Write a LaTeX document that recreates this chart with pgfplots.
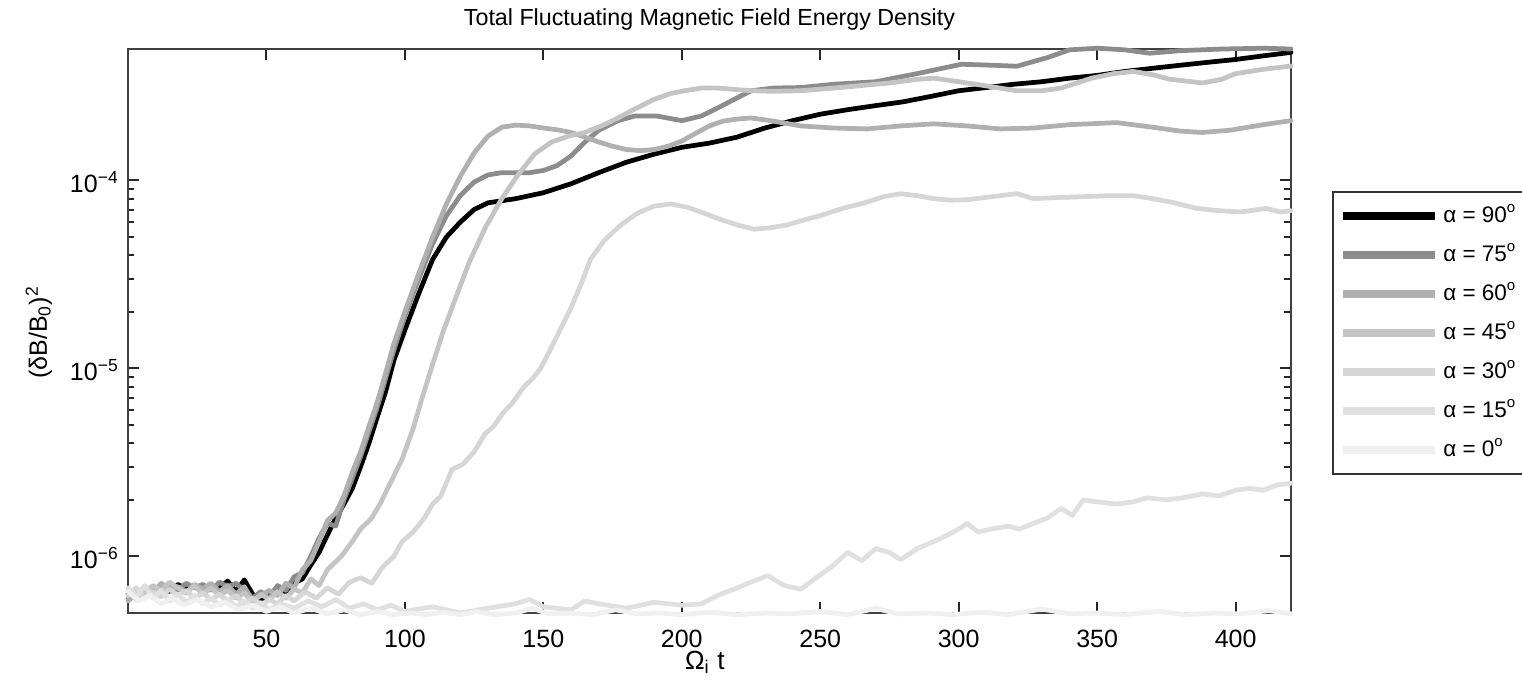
\documentclass[border=0pt]{standalone}
\usepackage{fontspec}
\setmainfont{Liberation Sans}
\usepackage{pgfplots}
\pgfplotsset{compat=1.18}
\definecolor{c90}{RGB}{0,0,0}
\definecolor{c75}{RGB}{140,140,140}
\definecolor{c60}{RGB}{176,176,176}
\definecolor{c45}{RGB}{196,196,196}
\definecolor{c30}{RGB}{214,214,214}
\definecolor{c15}{RGB}{224,224,224}
\definecolor{c0}{RGB}{240,240,240}
\begin{document}
\begin{tikzpicture}
\useasboundingbox (-51.2pt,-31.2pt) rectangle (557.6pt,245.2pt);
\begin{axis}[
  at={(0pt,0pt)}, anchor=south west,
  scale only axis, width=465.2pt, height=225.6pt,
  ymode=log, xmin=0, xmax=420, ymin=5e-7, ymax=5e-4,
  clip=false,
  xtick={50,100,...,400},
  ytick={1e-6,1e-5,1e-4},
  yticklabels={10\textsuperscript{−6},10\textsuperscript{−5},10\textsuperscript{−4}},
  tick label style={font=\fontsize{10}{12}\selectfont},
  xticklabel style={/pgf/number format/assume math mode=true, anchor=base, inner sep=0pt, yshift=-13.6pt},
  yticklabel style={anchor=base east, inner sep=0pt, xshift=-3.4pt, yshift=-4.8pt},
  tick align=inside, major tick length=4.5pt, minor tick length=2.6pt,
  axis line style={draw=black!75, line width=1pt},
  every tick/.style={black!85, line width=0.8pt},
  title={Total Fluctuating Magnetic Field Energy Density},
  title style={font=\fontsize{9.3}{11}\selectfont, at={(axis description cs:0.5,1)}, anchor=base, yshift=3.6pt},
  xlabel={Ω\textsubscript{i} t},
  xlabel style={font=\fontsize{10.5}{12}\selectfont, inner sep=0pt, at={(axis description cs:0.496,0)}, anchor=base, yshift=-22.5pt},
  ylabel={(δB/B\textsubscript{0})\textsuperscript{2}},
  ylabel style={font=\fontsize{10}{12}\selectfont, at={(axis description cs:-0.0697,0.498)}, anchor=base},
  legend style={at={(axis description cs:1.0353,0.748)}, anchor=north west,
    draw=black!80, line width=0.8pt, font=\fontsize{9}{10}\selectfont,
    inner xsep=2.4pt, inner ysep=5pt, row sep=6.6pt, column sep=1.2pt,
    nodes={inner sep=0.5pt, text height=6.5pt, text depth=1.5pt},
    cells={anchor=west}},
  legend image code/.code={\draw[#1, line width=3pt, line cap=butt] (0pt,0pt) -- (37pt,0pt);},
  every axis plot/.append style={line width=1.9pt, line join=round, line cap=round},
]
% alpha = 90
\addplot[c90] coordinates {(0,6.3e-7)(3,6.0e-7)(6,6.6e-7)(9,6.2e-7)(12,6.9e-7)(15,6.5e-7)(18,7.1e-7)(21,6.7e-7)(24,6.9e-7)(27,6.5e-7)(30,7.0e-7)(33,6.8e-7)(36,7.4e-7)(39,6.5e-7)(42,7.5e-7)(45,6.3e-7)(48,5.8e-7)(51,6.3e-7)(54,6.8e-7)(57,6.4e-7)(60,7.2e-7)(63,7.6e-7)(66,9.0e-7)(69,1.05e-6)(72,1.3e-6)(75,1.6e-6)(78,1.9e-6)(81,2.3e-6)(84,3.0e-6)(87,4.0e-6)(90,5.5e-6)(93,7.5e-6)(96,1.1e-5)(100,1.6e-5)(105,2.5e-5)(110,3.8e-5)(115,5.0e-5)(120,6.0e-5)(125,7.0e-5)(130,7.6e-5)(135,7.8e-5)(140,8.0e-5)(150,8.6e-5)(160,9.6e-5)(170,1.1e-4)(180,1.25e-4)(190,1.38e-4)(200,1.5e-4)(210,1.58e-4)(220,1.7e-4)(230,1.9e-4)(240,2.08e-4)(250,2.25e-4)(260,2.38e-4)(270,2.5e-4)(280,2.62e-4)(290,2.8e-4)(300,3.0e-4)(310,3.12e-4)(320,3.25e-4)(330,3.35e-4)(340,3.5e-4)(350,3.62e-4)(360,3.8e-4)(370,3.95e-4)(380,4.1e-4)(390,4.25e-4)(400,4.4e-4)(410,4.6e-4)(420,4.8e-4)};
\addlegendentry{α = 90\textsuperscript{o}}
% alpha = 75
\addplot[c75] coordinates {(0,6.0e-7)(3,6.5e-7)(6,6.2e-7)(9,6.8e-7)(12,6.4e-7)(15,7.0e-7)(18,6.6e-7)(21,7.2e-7)(24,6.8e-7)(27,7.1e-7)(30,6.6e-7)(33,7.3e-7)(36,6.9e-7)(39,7.2e-7)(42,6.6e-7)(45,6.0e-7)(48,6.5e-7)(51,6.0e-7)(54,7.0e-7)(57,6.6e-7)(60,7.8e-7)(63,8.2e-7)(66,1.0e-6)(69,1.25e-6)(72,1.5e-6)(75,1.45e-6)(78,2.0e-6)(81,2.6e-6)(84,3.4e-6)(87,4.6e-6)(90,6.2e-6)(93,8.8e-6)(96,1.25e-5)(100,1.9e-5)(105,3.0e-5)(110,4.6e-5)(115,6.5e-5)(120,8.3e-5)(125,9.8e-5)(130,1.07e-4)(135,1.1e-4)(140,1.1e-4)(145,1.1e-4)(150,1.13e-4)(155,1.2e-4)(160,1.35e-4)(165,1.6e-4)(170,1.85e-4)(177,2.08e-4)(183,2.2e-4)(191,2.2e-4)(200,2.08e-4)(207,2.2e-4)(213,2.43e-4)(220,2.75e-4)(225,3.0e-4)(233,3.1e-4)(243,3.12e-4)(255,3.25e-4)(270,3.35e-4)(285,3.7e-4)(301,4.15e-4)(312,4.1e-4)(321,4.05e-4)(332,4.5e-4)(340,4.95e-4)(350,5.05e-4)(360,4.95e-4)(369,4.75e-4)(380,4.9e-4)(395,5.0e-4)(410,5.05e-4)(420,5.0e-4)};
\addlegendentry{α = 75\textsuperscript{o}}
% alpha = 60
\addplot[c60] coordinates {(0,5.8e-7)(3,6.3e-7)(6,6.9e-7)(9,6.4e-7)(12,7.2e-7)(15,6.7e-7)(18,6.9e-7)(21,6.4e-7)(24,7.1e-7)(27,6.7e-7)(30,7.2e-7)(33,6.5e-7)(36,7.0e-7)(39,6.3e-7)(42,6.9e-7)(45,5.8e-7)(48,6.2e-7)(51,6.6e-7)(54,6.2e-7)(57,7.2e-7)(60,6.8e-7)(63,8.5e-7)(66,9.5e-7)(69,1.2e-6)(72,1.55e-6)(75,1.7e-6)(78,2.1e-6)(81,2.8e-6)(84,3.6e-6)(87,4.9e-6)(90,6.6e-6)(93,9.4e-6)(96,1.35e-5)(100,2.0e-5)(105,3.2e-5)(110,5.0e-5)(115,7.5e-5)(120,1.05e-4)(125,1.4e-4)(130,1.72e-4)(135,1.92e-4)(140,1.97e-4)(145,1.95e-4)(150,1.9e-4)(155,1.86e-4)(160,1.8e-4)(165,1.7e-4)(170,1.6e-4)(175,1.52e-4)(180,1.46e-4)(185,1.44e-4)(190,1.46e-4)(195,1.52e-4)(200,1.62e-4)(205,1.78e-4)(210,1.95e-4)(215,2.07e-4)(220,2.12e-4)(225,2.15e-4)(232,2.08e-4)(243,1.95e-4)(255,1.9e-4)(267,1.88e-4)(279,1.95e-4)(291,2.0e-4)(303,1.95e-4)(315,1.88e-4)(327,1.9e-4)(340,1.98e-4)(357,2.03e-4)(370,1.92e-4)(380,1.83e-4)(388,1.8e-4)(398,1.85e-4)(410,1.98e-4)(420,2.08e-4)};
\addlegendentry{α = 60\textsuperscript{o}}
% alpha = 45
\addplot[c45] coordinates {(0,6.6e-7)(3,5.9e-7)(6,6.4e-7)(9,7.0e-7)(12,6.6e-7)(15,7.3e-7)(18,6.8e-7)(21,6.4e-7)(24,7.0e-7)(27,6.3e-7)(30,6.8e-7)(33,6.2e-7)(36,6.6e-7)(39,6.0e-7)(42,6.4e-7)(45,5.7e-7)(48,6.3e-7)(51,5.9e-7)(54,6.5e-7)(57,6.0e-7)(60,6.7e-7)(63,6.4e-7)(66,7.6e-7)(69,7.0e-7)(72,8.5e-7)(77,1.0e-6)(81,1.2e-6)(84,1.4e-6)(88,1.6e-6)(91,1.9e-6)(95,2.5e-6)(99,3.3e-6)(103,4.8e-6)(106,6.8e-6)(110,1.05e-5)(114,1.6e-5)(118,2.3e-5)(123,3.6e-5)(129,5.6e-5)(135,8.0e-5)(141,1.08e-4)(147,1.39e-4)(153,1.6e-4)(159,1.72e-4)(165,1.8e-4)(171,1.95e-4)(177,2.15e-4)(183,2.4e-4)(190,2.7e-4)(196,2.9e-4)(201,3.0e-4)(207,3.1e-4)(213,3.1e-4)(219,3.05e-4)(225,3.0e-4)(233,2.98e-4)(243,3.0e-4)(255,3.1e-4)(265,3.2e-4)(275,3.3e-4)(285,3.45e-4)(291,3.5e-4)(300,3.35e-4)(309,3.2e-4)(321,3.0e-4)(330,3.0e-4)(337,3.1e-4)(348,3.5e-4)(356,3.7e-4)(363,3.8e-4)(370,3.65e-4)(376,3.46e-4)(388,3.3e-4)(395,3.45e-4)(400,3.7e-4)(410,3.9e-4)(420,4.06e-4)};
\addlegendentry{α = 45\textsuperscript{o}}
% alpha = 30
\addplot[c30] coordinates {(0,6.2e-7)(3,6.8e-7)(6,6.0e-7)(9,6.5e-7)(12,6.1e-7)(15,6.7e-7)(18,6.2e-7)(21,6.6e-7)(24,6.0e-7)(27,6.4e-7)(30,5.9e-7)(33,6.3e-7)(36,5.8e-7)(39,6.2e-7)(42,5.6e-7)(45,6.0e-7)(48,5.5e-7)(51,5.9e-7)(54,5.6e-7)(57,6.2e-7)(60,5.8e-7)(64,6.5e-7)(68,6.0e-7)(72,6.8e-7)(76,6.3e-7)(80,7.3e-7)(84,7.7e-7)(88,7.2e-7)(92,8.8e-7)(96,1.0e-6)(99,1.2e-6)(103,1.35e-6)(107,1.6e-6)(110,1.9e-6)(113,2.1e-6)(117,2.9e-6)(121,3.1e-6)(125,3.6e-6)(129,4.5e-6)(132,4.9e-6)(135,5.7e-6)(139,6.6e-6)(143,8.0e-6)(146,8.8e-6)(149,1.0e-5)(153,1.3e-5)(156,1.6e-5)(160,2.1e-5)(164,2.9e-5)(167,3.8e-5)(172,4.8e-5)(178,5.8e-5)(184,6.7e-5)(190,7.3e-5)(196,7.5e-5)(202,7.2e-5)(208,6.7e-5)(214,6.2e-5)(220,5.8e-5)(226,5.5e-5)(232,5.6e-5)(238,5.8e-5)(243,6.1e-5)(250,6.5e-5)(258,7.1e-5)(266,7.6e-5)(273,8.2e-5)(279,8.5e-5)(285,8.3e-5)(291,8.0e-5)(297,7.85e-5)(303,7.9e-5)(309,8.1e-5)(315,8.3e-5)(321,8.5e-5)(327,8.0e-5)(335,8.1e-5)(345,8.2e-5)(355,8.3e-5)(363,8.3e-5)(370,8.0e-5)(378,7.6e-5)(386,7.1e-5)(394,6.9e-5)(402,6.8e-5)(411,7.1e-5)(416,6.8e-5)(420,6.9e-5)};
\addlegendentry{α = 30\textsuperscript{o}}
% alpha = 15
\addplot[c15] coordinates {(0,6.8e-7)(3,6.1e-7)(6,7.0e-7)(9,6.0e-7)(12,6.6e-7)(15,5.8e-7)(18,6.3e-7)(21,5.7e-7)(24,6.2e-7)(27,5.6e-7)(30,6.0e-7)(33,5.5e-7)(36,5.9e-7)(39,5.4e-7)(42,5.8e-7)(45,5.3e-7)(48,5.7e-7)(51,5.2e-7)(55,5.6e-7)(60,5.3e-7)(65,5.8e-7)(70,5.4e-7)(75,5.9e-7)(80,5.3e-7)(85,5.6e-7)(90,5.2e-7)(95,5.5e-7)(100,5.1e-7)(110,5.4e-7)(120,5.0e-7)(130,5.3e-7)(140,5.6e-7)(145,5.9e-7)(150,5.4e-7)(160,5.2e-7)(165,5.8e-7)(170,5.6e-7)(180,5.3e-7)(190,5.7e-7)(200,5.5e-7)(207,5.6e-7)(213,6.2e-7)(219,6.7e-7)(225,7.3e-7)(231,7.9e-7)(237,7.0e-7)(243,6.7e-7)(248,7.6e-7)(254,8.8e-7)(260,1.05e-6)(265,9.5e-7)(270,1.1e-6)(275,1.05e-6)(279,9.6e-7)(285,1.1e-6)(291,1.2e-6)(296,1.3e-6)(300,1.4e-6)(303,1.5e-6)(307,1.35e-6)(312,1.4e-6)(318,1.45e-6)(322,1.4e-6)(327,1.5e-6)(332,1.6e-6)(337,1.8e-6)(341,1.65e-6)(345,2.0e-6)(350,1.95e-6)(357,1.9e-6)(363,1.95e-6)(368,2.05e-6)(375,2.0e-6)(381,2.05e-6)(388,2.15e-6)(394,2.1e-6)(400,2.25e-6)(405,2.3e-6)(410,2.25e-6)(415,2.4e-6)(420,2.45e-6)};
\addlegendentry{α = 15\textsuperscript{o}}
% alpha = 0
\addplot[c0] coordinates {(0,6.5e-7)(4,5.8e-7)(8,6.2e-7)(12,5.6e-7)(16,6.0e-7)(20,5.5e-7)(25,5.9e-7)(30,5.4e-7)(35,5.7e-7)(40,5.2e-7)(45,5.5e-7)(50,5.1e-7)(55,5.4e-7)(60,5.0e-7)(66,5.3e-7)(72,4.95e-7)(78,5.2e-7)(84,4.9e-7)(90,5.1e-7)(96,4.9e-7)(102,5.0e-7)(108,4.9e-7)(114,5.05e-7)(120,4.9e-7)(126,5.1e-7)(132,4.9e-7)(140,5.0e-7)(146,5.3e-7)(152,4.95e-7)(160,5.0e-7)(168,4.9e-7)(176,5.2e-7)(184,4.95e-7)(192,5.0e-7)(200,4.9e-7)(210,5.05e-7)(220,4.9e-7)(230,5.0e-7)(240,4.95e-7)(250,5.1e-7)(260,4.9e-7)(270,5.3e-7)(278,4.95e-7)(288,5.0e-7)(298,4.9e-7)(308,5.05e-7)(318,4.9e-7)(330,5.25e-7)(340,4.95e-7)(350,5.0e-7)(360,4.9e-7)(372,5.1e-7)(382,4.9e-7)(392,5.0e-7)(402,4.95e-7)(412,5.15e-7)(420,4.95e-7)};
\addlegendentry{α = 0\textsuperscript{o}}
\end{axis}
\end{tikzpicture}
\end{document}
